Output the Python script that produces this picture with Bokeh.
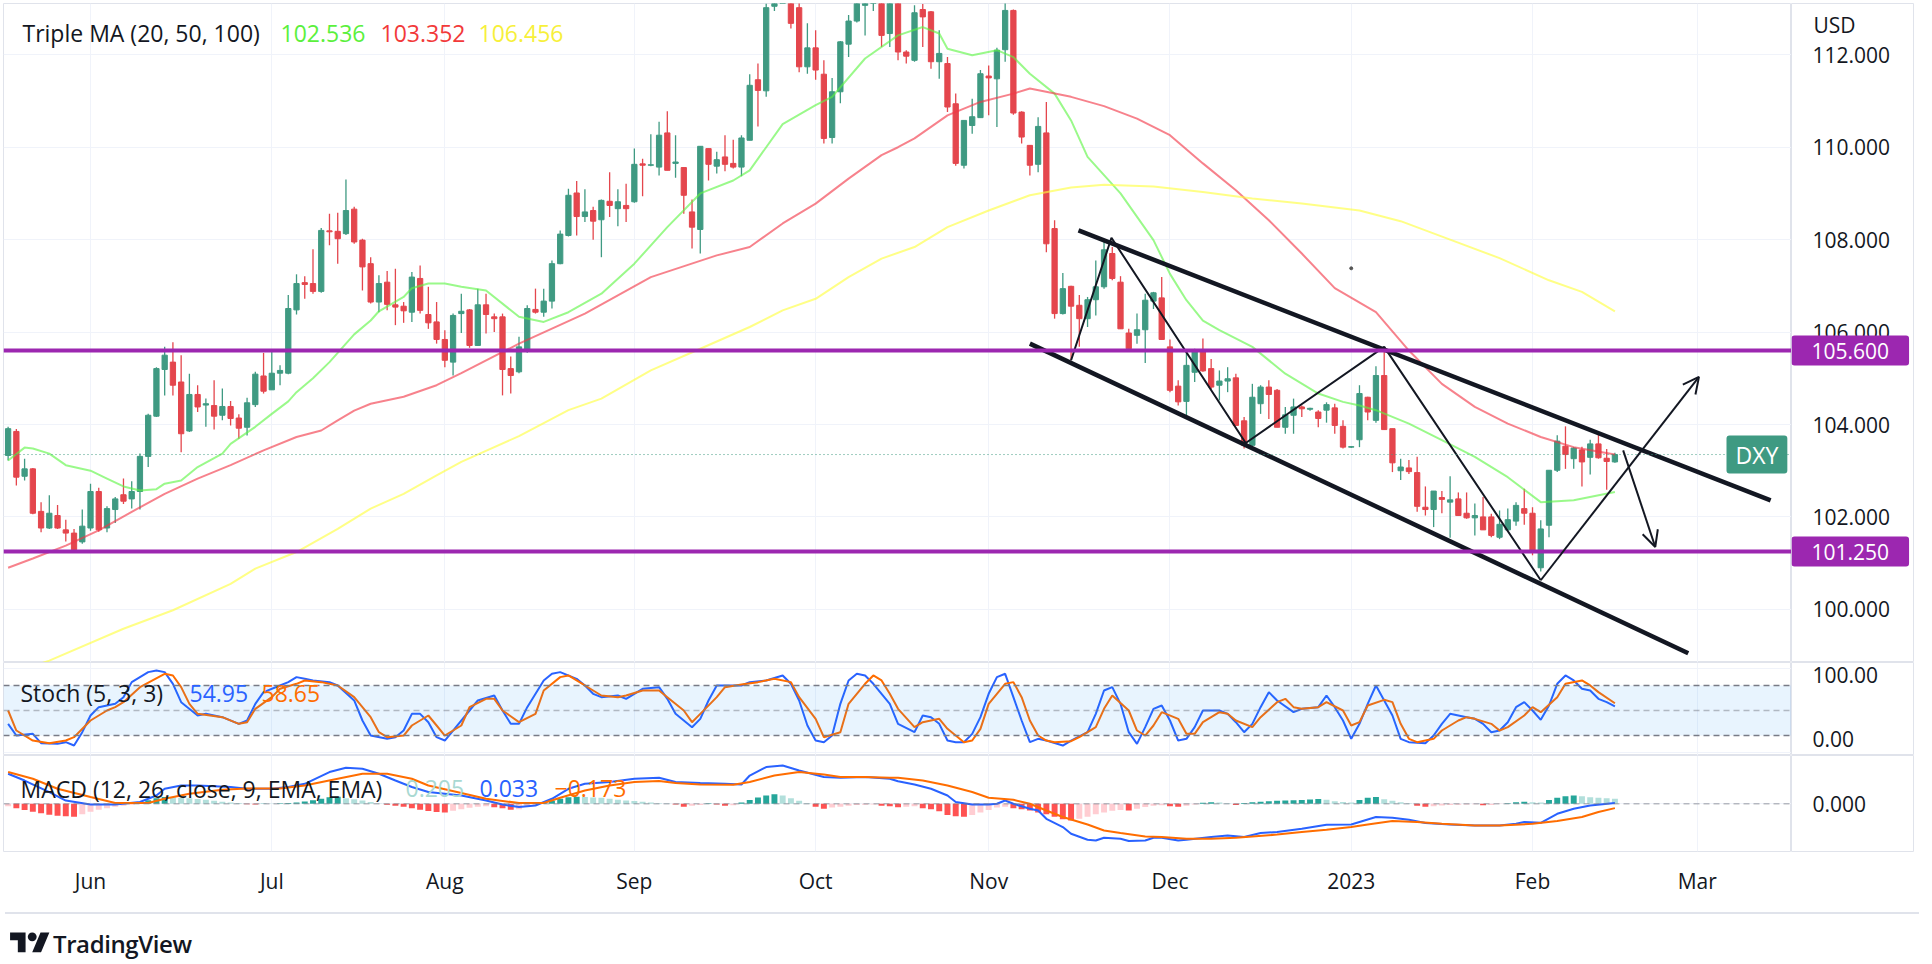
import pandas as pd
from bokeh.plotting import figure
from bokeh.models import (Range1d, FixedTicker, Grid, Label, Span,
                          BoxAnnotation, Arrow, OpenHead, Div, ColumnDataSource,
                          CustomJSTickFormatter)
from bokeh.layouts import column, row
from bokeh.core.properties import value
from bokeh.embed import file_html
from bokeh.resources import INLINE

# ---------------- data (DXY daily) ----------------
start_date = "2022-05-18"

open_ = [103.33, 103.85, 102.88, 103.04, 102.12, 101.76, 102.03, 101.72, 101.65, 101.46,
         101.76, 102.55, 101.76, 102.16, 102.48, 102.39, 102.55, 103.31, 104.18, 105.19,
         105.35, 104.92, 103.86, 104.65, 104.42, 104.41, 104.20, 104.39, 104.14, 103.94,
         104.43, 105.05, 104.75, 105.11, 105.11, 106.48, 107.07, 107.05, 106.88, 108.19,
         108.18, 108.13, 108.66, 107.99, 107.48, 106.65, 107.08, 106.59, 106.56, 106.43,
         107.16, 106.38, 106.22, 105.84, 105.35, 106.40, 106.48, 105.71, 106.59, 106.33,
         106.33, 105.21, 105.14, 105.60, 106.49, 106.43, 106.67, 107.48, 108.09, 109.01,
         108.50, 108.63, 108.43, 108.83, 108.67, 108.74, 108.82, 109.64, 109.61, 109.57,
         110.31, 109.65, 109.56, 108.60, 108.22, 109.97, 109.59, 109.79, 109.65, 109.57,
         110.15, 111.46, 111.22, 113.05, 114.05, 114.20, 113.02, 111.74, 112.15, 111.58,
         110.21, 111.20, 112.23, 112.73, 113.07, 113.20, 113.30, 112.46, 113.20, 112.06,
         111.88, 112.98, 112.93, 111.85, 111.81, 110.94, 109.61, 110.47, 110.64, 111.54,
         111.48, 112.11, 112.96, 110.76, 110.04, 109.63, 110.31, 108.24, 106.40, 106.99,
         106.58, 106.29, 106.70, 106.98, 107.70, 107.08, 105.98, 105.93, 106.05, 106.67,
         106.74, 105.68, 104.83, 104.50, 105.13, 105.62, 105.21, 104.85, 104.94, 105.01,
         104.08, 103.55, 104.45, 104.81, 104.74, 103.94, 104.20, 104.38, 104.33, 104.27,
         104.31, 104.36, 103.96, 103.51, 103.67, 104.59, 104.09, 105.06, 103.91, 103.00,
         103.06, 102.96, 102.21, 102.16, 102.42, 102.32, 102.39, 102.08, 101.98, 102.00,
         102.00, 101.56, 101.72, 101.91, 102.18, 102.08, 100.90, 101.82, 103.01, 103.53,
         103.26, 103.45, 103.29, 103.58, 103.27, 103.19]

high_ = [103.95, 103.90, 103.26, 103.06, 102.32, 102.47, 102.26, 101.94, 101.74, 102.16,
         102.72, 102.63, 102.23, 102.43, 102.83, 102.77, 103.37, 104.23, 105.24, 105.68,
         105.78, 105.50, 105.10, 104.85, 104.56, 104.96, 104.78, 104.51, 104.22, 104.58,
         105.14, 105.55, 105.62, 105.28, 106.80, 107.25, 107.21, 107.79, 108.25, 108.56,
         108.58, 109.30, 108.71, 108.02, 107.62, 107.23, 107.32, 107.37, 106.65, 107.30,
         107.44, 106.98, 106.65, 106.04, 106.40, 106.83, 106.50, 106.94, 106.83, 106.40,
         106.40, 105.47, 105.90, 106.58, 106.94, 106.94, 107.55, 108.20, 109.10, 109.27,
         109.09, 108.71, 108.87, 109.46, 109.09, 109.21, 109.97, 109.75, 110.28, 110.55,
         110.78, 110.26, 109.56, 108.87, 110.02, 109.97, 109.90, 110.26, 110.16, 110.26,
         111.58, 111.81, 113.11, 114.50, 114.60, 114.78, 113.30, 112.68, 112.53, 111.88,
         111.50, 112.30, 112.86, 113.30, 113.40, 113.55, 113.90, 113.50, 113.30, 112.10,
         113.07, 113.10, 112.95, 112.53, 111.95, 111.16, 110.58, 111.05, 111.67, 111.77,
         112.15, 113.12, 112.98, 110.78, 110.05, 110.65, 110.98, 108.42, 107.28, 107.00,
         106.80, 106.76, 107.55, 107.99, 107.84, 107.21, 106.07, 106.40, 106.83, 106.87,
         107.19, 105.84, 104.96, 105.60, 105.64, 105.86, 105.42, 105.17, 105.24, 105.10,
         104.16, 104.88, 104.85, 104.96, 104.77, 104.38, 104.56, 104.41, 104.36, 104.31,
         104.48, 104.45, 104.09, 103.53, 104.85, 104.60, 105.26, 105.64, 103.91, 103.26,
         103.23, 103.30, 102.66, 102.56, 102.56, 102.88, 102.53, 102.53, 102.29, 102.43,
         102.07, 102.14, 102.18, 102.32, 102.61, 102.21, 101.93, 103.01, 103.77, 103.96,
         103.51, 103.52, 103.67, 103.83, 103.47, 103.39]

low_ = [103.22, 102.68, 102.79, 102.06, 101.67, 101.74, 101.74, 101.47, 101.27, 101.42,
        101.70, 101.68, 101.67, 101.87, 102.28, 102.18, 102.16, 103.08, 104.16, 104.63,
        104.63, 103.40, 103.84, 104.27, 103.95, 103.89, 104.09, 103.98, 103.69, 103.76,
        104.38, 104.67, 104.75, 104.85, 105.09, 106.38, 106.72, 106.83, 106.85, 107.88,
        107.48, 108.10, 107.91, 106.90, 106.62, 106.43, 106.47, 106.15, 106.20, 106.22,
        106.40, 106.07, 105.75, 105.24, 105.06, 105.98, 105.66, 105.70, 105.97, 106.00,
        104.63, 104.67, 105.11, 105.55, 106.40, 106.33, 106.51, 107.47, 108.07, 108.09,
        108.38, 108.00, 107.62, 108.49, 108.29, 108.38, 108.80, 108.94, 109.59, 109.39,
        109.50, 109.34, 108.56, 107.81, 107.70, 109.28, 109.43, 109.48, 109.54, 109.37,
        110.15, 110.45, 111.09, 112.95, 113.90, 112.57, 111.62, 111.59, 111.46, 110.08,
        110.08, 110.95, 111.95, 112.70, 112.42, 112.95, 112.17, 112.17, 111.88, 111.81,
        111.85, 112.17, 111.70, 111.48, 110.76, 109.60, 109.54, 110.29, 110.64, 110.69,
        110.44, 111.85, 110.70, 110.08, 109.39, 109.46, 107.73, 106.29, 106.38, 105.39,
        105.68, 106.11, 106.36, 106.94, 107.12, 106.07, 105.60, 105.75, 105.33, 106.50,
        105.84, 104.70, 104.41, 104.12, 104.92, 105.14, 104.77, 104.52, 104.70, 103.98,
        103.48, 103.48, 104.23, 104.12, 103.94, 103.80, 103.80, 104.16, 104.30, 103.94,
        104.04, 103.80, 103.48, 103.49, 103.51, 104.09, 104.04, 103.89, 102.97, 102.80,
        102.93, 102.11, 102.03, 101.78, 102.08, 101.55, 102.03, 101.96, 101.60, 101.72,
        101.56, 101.52, 101.70, 101.81, 101.83, 101.17, 100.82, 101.56, 102.97, 103.04,
        103.04, 102.66, 102.92, 103.26, 102.59, 103.17]

close_ = [103.91, 102.86, 103.04, 102.08, 101.76, 102.08, 101.76, 101.65, 101.29, 101.80,
          102.55, 101.72, 102.18, 102.39, 102.34, 102.55, 103.31, 104.20, 105.21, 105.50,
          104.85, 103.80, 104.65, 104.38, 104.45, 104.18, 104.39, 104.13, 103.92, 104.47,
          105.09, 104.72, 105.11, 105.17, 106.51, 107.05, 107.03, 106.88, 108.20, 108.17,
          108.02, 108.63, 107.95, 107.41, 106.65, 107.05, 106.60, 106.54, 106.46, 107.19,
          106.47, 106.20, 105.84, 105.39, 106.36, 106.45, 105.71, 106.59, 106.38, 106.29,
          105.19, 105.06, 105.68, 106.51, 106.43, 106.67, 107.48, 108.12, 108.96, 108.50,
          108.60, 108.40, 108.85, 108.74, 108.82, 108.67, 109.63, 109.61, 109.62, 110.26,
          109.50, 109.68, 108.96, 108.27, 110.02, 109.63, 109.73, 109.63, 109.57, 110.20,
          111.34, 111.23, 113.02, 114.10, 114.15, 112.68, 111.74, 112.15, 111.67, 110.19,
          111.20, 112.28, 112.73, 113.18, 113.12, 113.25, 112.42, 113.30, 112.06, 111.97,
          112.91, 112.82, 111.85, 112.03, 110.87, 109.65, 110.58, 110.66, 111.59, 111.50,
          112.10, 112.96, 110.74, 110.22, 109.61, 110.45, 107.91, 106.40, 106.94, 106.56,
          106.29, 106.70, 106.98, 107.78, 107.16, 106.07, 105.64, 106.05, 106.69, 106.85,
          105.84, 104.74, 104.49, 105.28, 105.57, 105.16, 104.81, 104.94, 104.99, 103.98,
          103.55, 104.59, 104.81, 104.65, 103.94, 104.21, 104.38, 104.34, 104.35, 104.13,
          104.43, 103.98, 103.51, 103.52, 104.67, 104.27, 105.06, 103.89, 103.17, 103.08,
          102.98, 102.23, 102.16, 102.56, 102.38, 102.37, 102.03, 101.98, 102.03, 101.72,
          101.60, 101.84, 101.94, 102.25, 102.08, 101.24, 101.74, 103.01, 103.64, 103.35,
          103.49, 103.19, 103.58, 103.28, 103.20, 103.35]

# Triple MA (20, 50, 100) read at sampled bars
ma20_idx = [0, 2, 3, 5, 7, 10, 12, 14, 16, 18, 19, 21, 23, 26, 27, 30, 32, 34, 35, 37, 39, 40, 42, 44, 45,
            48, 49, 51, 53, 55, 58, 62, 65, 68, 72, 76, 80, 84, 88, 90, 92, 94, 98, 100, 104, 108, 111,
            113, 114, 117, 120, 122, 124, 127, 129, 131, 135, 139, 141, 143, 145, 147, 151, 155, 159,
            162, 164, 166, 170, 174, 178, 182, 186, 190, 195]
ma20_val = [103.22, 103.50, 103.48, 103.37, 103.12, 103.00, 102.83, 102.66, 102.57, 102.60, 102.72,
            102.79, 103.08, 103.37, 103.58, 103.95, 104.23, 104.50, 104.70, 105.00, 105.35, 105.55,
            105.95, 106.25, 106.45, 106.76, 106.95, 107.05, 107.05, 106.98, 106.90, 106.33, 106.22,
            106.43, 106.83, 107.48, 108.27, 109.00, 109.28, 109.50, 110.00, 110.50, 110.91, 111.09,
            111.92, 112.42, 112.60, 112.46, 112.13, 111.99, 112.10, 111.95, 111.59, 111.16, 110.58,
            109.79, 109.00, 107.99, 107.26, 106.69, 106.25, 106.04, 105.68, 105.10, 104.67, 104.49,
            104.41, 104.31, 104.02, 103.66, 103.30, 102.86, 102.32, 102.36, 102.54]

ma50_idx = [0, 3, 7, 11, 15, 19, 23, 27, 31, 35, 38, 40, 42, 44, 48, 52, 55, 62, 70, 78, 86, 90, 94,
            98, 102, 106, 108, 110, 114, 118, 122, 124, 129, 133, 137, 141, 145, 149, 153, 157, 161,
            166, 170, 174, 178, 182, 186, 190, 195]
ma50_val = [100.90, 101.10, 101.38, 101.71, 102.11, 102.50, 102.83, 103.12, 103.44, 103.73, 103.87,
            104.09, 104.30, 104.45, 104.60, 104.85, 105.11, 105.75, 106.40, 107.19, 107.66, 107.84,
            108.35, 108.78, 109.32, 109.83, 110.00, 110.19, 110.69, 110.98, 111.16, 111.27, 111.09,
            110.89, 110.62, 110.26, 109.65, 109.07, 108.42, 107.70, 106.95, 106.43, 105.60, 104.88,
            104.38, 104.02, 103.73, 103.51, 103.35]

ma100_idx = [4, 5, 14, 20, 27, 30, 35, 40, 44, 48, 52, 55, 62, 68, 72, 78, 84, 90, 94, 98, 102, 106,
             110, 114, 119, 124, 129, 133, 139, 145, 151, 157, 164, 169, 175, 181, 187, 191, 195]
ma100_val = [98.83, 98.89, 99.58, 99.98, 100.55, 100.88, 101.24, 101.74, 102.18, 102.50, 102.90,
             103.19, 103.75, 104.31, 104.56, 105.17, 105.64, 106.11, 106.47, 106.72, 107.19, 107.59,
             107.84, 108.27, 108.63, 108.96, 109.13, 109.19, 109.15, 109.03, 108.89, 108.78, 108.63,
             108.40, 108.00, 107.60, 107.12, 106.87, 106.45]

# Stochastic (5, 3, 3)
stoch_k_idx = [0, 1, 3, 4, 6, 7, 8, 9, 10, 11, 13, 14, 15, 17, 18, 19, 20, 21, 23, 24, 25, 26, 28, 29,
               30, 31, 33, 34, 35, 36, 37, 39, 40, 42, 43, 44, 46, 47, 48, 49, 50, 51, 52, 53, 54, 56,
               57, 59, 60, 61, 62, 63, 65, 66, 67, 69, 70, 71, 72, 74, 75, 76, 77, 79, 80, 81, 83, 84,
               85, 86, 87, 89, 90, 92, 94, 95, 96, 97, 98, 99, 100, 101, 102, 103, 104, 105, 107, 108,
               110, 111, 112, 113, 114, 115, 116, 117, 118, 119, 120, 121, 122, 123, 124, 125, 126, 128,
               129, 131, 132, 133, 134, 135, 136, 137, 138, 139, 140, 141, 142, 143, 144, 145, 147, 148,
               149, 150, 151, 152, 153, 154, 156, 157, 159, 160, 161, 162, 163, 164, 165, 166, 167, 168,
               169, 170, 172, 173, 174, 175, 177, 178, 179, 180, 181, 182, 183, 184, 185, 186, 187, 188,
               189, 190, 191, 192, 193, 194, 195]
stoch_k_val = [34, 20, 22, 10.8, 10, 12, 8, 24, 44, 54, 58, 66, 84, 96, 98, 96, 82, 60, 44, 46, 44, 42,
               34, 38, 58, 72, 80, 84, 90, 88, 86, 84, 80, 62, 38, 20, 16, 18, 26, 46, 46, 36, 18, 14,
               26, 50, 62, 68, 50, 34, 34, 54, 86, 94, 96, 88, 80, 70, 66, 68, 64, 70, 76, 78, 64, 46,
               30, 40, 62, 80, 80, 80, 84, 86, 92, 82, 62, 32, 14, 12, 20, 58, 86, 94, 92, 82, 58, 34,
               24, 44, 42, 34, 14, 12, 12, 22, 42, 70, 90, 94, 66, 38, 12, 16, 14, 8, 14, 24, 46, 74,
               78, 58, 24, 10, 30, 52, 56, 38, 14, 16, 30, 50, 50, 46, 36, 24, 34, 54, 72, 62, 48, 52,
               54, 68, 54, 38, 16, 34, 58, 80, 62, 44, 16, 12, 10.8, 20, 34, 46, 42, 40, 34, 24, 26,
               36, 54, 60, 50, 38.8, 56, 82, 92, 86, 76, 74, 64, 60, 54.95]
stoch_d_idx = [0, 1, 3, 5, 7, 8, 10, 12, 13, 14, 16, 19, 20, 21, 22, 23, 26, 28, 29, 30, 32, 33, 35,
               36, 38, 40, 42, 44, 45, 46, 48, 49, 51, 52, 53, 55, 56, 58, 59, 60, 62, 64, 65, 67, 68,
               69, 71, 72, 74, 75, 77, 79, 80, 82, 83, 84, 86, 87, 89, 91, 93, 95, 96, 98, 99, 101, 102,
               104, 105, 106, 107, 108, 110, 111, 113, 114, 116, 117, 118, 119, 121, 122, 123, 124, 125,
               126, 127, 129, 130, 132, 133, 134, 136, 137, 138, 139, 140, 142, 143, 144, 145, 147, 148,
               149, 151, 152, 154, 155, 156, 157, 159, 160, 162, 163, 164, 165, 167, 168, 169, 170, 171,
               173, 174, 176, 177, 178, 180, 181, 182, 184, 185, 186, 188, 189, 191, 192, 193, 195]
stoch_d_val = [50, 26, 14, 10.8, 14, 18, 38, 50, 54, 60, 78, 94, 92, 78, 58, 46, 42, 34, 36, 52, 66,
               76, 82, 86, 84, 80, 66, 42, 24, 18, 20, 32, 44, 32, 20, 32, 54, 64, 64, 50, 36, 46, 74,
               90, 92, 86, 74, 68, 66, 68, 74, 74, 66, 50, 36, 46, 66, 78, 81.2, 84, 88, 84, 66, 40,
               18, 24, 58, 82, 92, 86, 70, 52, 30, 36, 40, 28, 12, 14, 28, 58, 82, 84, 66, 38, 20, 14,
               12, 13.2, 18, 30, 52, 68, 50, 26, 20, 32, 48, 40, 22, 22, 36, 48, 46, 38, 30, 42, 60,
               64, 54, 52, 54, 60, 50, 32, 36, 56, 62.8, 60, 34, 16, 12, 16, 26, 38, 42, 40, 34, 26,
               30, 44, 54, 48, 66, 82, 86, 80, 72, 58.65]

# MACD (12, 26, close, 9)
macd_idx = [0, 2, 5, 7, 10, 13, 16, 18, 19, 21, 23, 27, 29, 32, 34, 36, 39, 41, 43, 45, 47, 49, 51, 55,
            58, 60, 62, 64, 66, 68, 70, 73, 76, 79, 81, 84, 87, 89, 90, 92, 94, 96, 99, 101, 104, 107,
            108, 110, 112, 114, 115, 117, 119, 120, 121, 122, 124, 125, 126, 128, 129, 131, 132, 133,
            135, 136, 138, 139, 140, 142, 143, 146, 148, 150, 152, 154, 157, 160, 163, 164, 166, 168,
            170, 172, 175, 178, 181, 183, 184, 186, 188, 190, 192, 195]
macd_val = [1.20, 0.93, 0.47, 0.13, -0.03, -0.03, 0.07, 0.33, 0.60, 0.73, 0.73, 0.67, 0.60, 0.60, 0.67,
            0.80, 1.27, 1.44, 1.40, 1.20, 0.93, 0.67, 0.47, 0.33, 0.13, -0.03, -0.13, -0.07, 0.20, 0.60,
            0.80, 0.87, 1.00, 1.04, 0.87, 0.83, 0.80, 0.77, 1.13, 1.47, 1.53, 1.33, 1.07, 1.04, 1.07,
            1.00, 0.90, 0.77, 0.60, 0.33, 0.07, -0.03, -0.03, 0.00, 0.13, 0.00, -0.20, -0.27, -0.60,
            -0.93, -1.20, -1.44, -1.47, -1.36, -1.40, -1.49, -1.47, -1.36, -1.36, -1.47, -1.44, -1.33,
            -1.27, -1.33, -1.17, -1.13, -1.00, -0.84, -0.83, -0.73, -0.53, -0.56, -0.64, -0.77, -0.83,
            -0.87, -0.87, -0.80, -0.73, -0.76, -0.40, -0.20, -0.07, 0.033]
signal_idx = [0, 3, 6, 10, 13, 17, 19, 22, 26, 29, 33, 36, 40, 43, 46, 49, 51, 55, 58, 62, 65, 67, 70,
              73, 76, 79, 81, 84, 88, 90, 93, 96, 99, 101, 104, 107, 108, 111, 114, 117, 119, 122, 124,
              126, 128, 131, 133, 135, 138, 140, 143, 146, 149, 151, 154, 157, 160, 163, 165, 168, 171,
              174, 178, 181, 185, 188, 191, 193, 195]
signal_val = [1.27, 1.00, 0.60, 0.27, 0.03, 0.03, 0.20, 0.40, 0.56, 0.61, 0.61, 0.73, 1.00, 1.20, 1.20,
              1.00, 0.73, 0.43, 0.20, 0.03, 0.03, 0.24, 0.53, 0.73, 0.87, 0.91, 0.83, 0.77, 0.76, 0.87,
              1.13, 1.27, 1.17, 1.07, 1.07, 1.04, 1.04, 0.93, 0.73, 0.47, 0.24, 0.16, 0.00, -0.27, -0.53,
              -0.83, -1.07, -1.17, -1.31, -1.33, -1.40, -1.40, -1.36, -1.31, -1.23, -1.13, -1.04, -0.93,
              -0.83, -0.69, -0.73, -0.80, -0.87, -0.87, -0.80, -0.69, -0.53, -0.33, -0.173]
hist_val = [-0.10, -0.18, -0.25, -0.32, -0.38, -0.44, -0.48, -0.50, -0.52, -0.42,
            -0.32, -0.24, -0.18, -0.12, -0.08, -0.04, 0.05, 0.14, 0.22, 0.27,
            0.26, 0.24, 0.22, 0.19, 0.16, 0.12, 0.08, 0.05, 0.03, -0.02,
            -0.03, 0.01, 0.01, 0.02, 0.03, 0.05, 0.09, 0.14, 0.20, 0.26,
            0.28, 0.22, 0.18, 0.13, 0.07, 0.01, -0.04, -0.08, -0.12, -0.18,
            -0.24, -0.29, -0.33, -0.35, -0.28, -0.22, -0.16, -0.12, -0.10, -0.14,
            -0.18, -0.24, -0.22, -0.13, -0.05, 0.05, 0.12, 0.20, 0.26, 0.28,
            0.27, 0.25, 0.24, 0.20, 0.16, 0.13, 0.11, 0.08, 0.05, 0.02,
            0.01, -0.03, -0.12, -0.08, -0.05, 0.02, -0.03, -0.08, -0.06, 0.05,
            0.15, 0.25, 0.33, 0.38, 0.33, 0.22, 0.12, 0.02, -0.12, -0.20,
            -0.15, -0.12, -0.08, -0.05, -0.04, -0.03, -0.08, -0.10, -0.14, -0.12,
            -0.10, -0.18, -0.22, -0.30, -0.45, -0.50, -0.52, -0.45, -0.35, -0.25,
            -0.15, -0.12, -0.18, -0.22, -0.27, -0.35, -0.42, -0.52, -0.62, -0.67,
            -0.60, -0.52, -0.42, -0.35, -0.28, -0.25, -0.27, -0.20, -0.13, -0.08,
            -0.06, -0.10, -0.12, -0.08, -0.03, 0.04, 0.06, 0.05, 0.02, -0.05,
            0.03, 0.06, 0.08, 0.10, 0.12, 0.13, 0.14, 0.15, 0.17, 0.19,
            0.16, 0.10, 0.07, 0.05, 0.15, 0.24, 0.27, 0.18, 0.12, 0.06,
            0.02, -0.08, -0.12, -0.10, -0.07, -0.05, -0.04, -0.03, -0.02, -0.06,
            -0.05, -0.01, 0.02, 0.06, 0.08, 0.06, 0.05, 0.15, 0.24, 0.30,
            0.33, 0.30, 0.26, 0.24, 0.22, 0.205]

# horizontal levels and drawings (bar index, price)
levels = [105.60, 101.25]
last_price = 103.35
channel_upper_x = [129.9, 213.9]
channel_upper_y = [108.20, 102.36]
channel_lower_x = [124.0, 203.9]
channel_lower_y = [105.75, 99.05]
zigzag_x = [129.0, 133.9, 150.2, 167.0, 186.0]
zigzag_y = [105.39, 108.04, 103.60, 105.68, 100.63]
arrow_up = (186.0, 100.63, 205.2, 105.03)
arrow_down = (196.0, 103.44, 199.9, 101.35)
dot_x, dot_y = [163], [107.38]

price_ticks = [100, 102, 104, 106, 108, 110, 112]
stoch_ticks = [0, 100]
macd_ticks = [0]
legend_main = ["102.536", "103.352", "106.456"]
legend_stoch = ["54.95", "58.65"]
legend_macd = ["0.205", "0.033", "\u22120.173"]

# ---------------- styling ----------------
FONT = "Open Sans"
TXT = "#131722"
GRIDC = "#f0f3fa"
BORDER = "#e0e3eb"
UP = "#3f9a82"
DOWN = "#e4464d"
PURPLE = "#9c27b0"
BLUE = "#2962ff"
ORANGE = "#ff6d00"
INK = "#131722"
MA_COL = ["#5cf542", "#f23645", "#ffff3b"]
MA_TXT = ["#5bf03c", "#f23a3a", "#f7f03a"]

W = 1914
FR = 1791          # right edge of the plotting area (px)
AW = W - FR        # width of the price-scale column
n = len(close_)
cal = pd.bdate_range(start_date, periods=n + 26)
month_idx = [i for i in range(1, len(cal)) if cal[i].month != cal[i - 1].month]
month_names = ["2023" if cal[i].month == 1 else cal[i].strftime("%b") for i in month_idx]

x0 = -0.56
xr = Range1d(x0, x0 + (FR - 3) / 8.24)


def make_fig(height, yr, ticks, top=0, bottom=0, xaxis=False):
    p = figure(width=FR, height=height, x_range=xr, y_range=yr,
               toolbar_location=None, output_backend="svg",
               x_axis_location=("below" if xaxis else None), y_axis_location=None,
               min_border_left=3, min_border_right=0, min_border_top=top,
               min_border_bottom=bottom, background_fill_color="white",
               border_fill_color="white", outline_line_color=BORDER, outline_line_width=1)
    p.xgrid.visible = False
    p.ygrid.visible = False
    p.add_layout(Grid(dimension=0, ticker=FixedTicker(ticks=month_idx),
                      grid_line_color=GRIDC, grid_line_width=1))
    p.add_layout(Grid(dimension=1, ticker=FixedTicker(ticks=ticks),
                      grid_line_color=GRIDC, grid_line_width=1))
    return p


def make_scale(height, yr, ticks, fmt, top=0, bottom=0, offsets=None):
    a = figure(width=AW, height=height, x_range=Range1d(0, AW), y_range=yr,
               toolbar_location=None, output_backend="svg",
               x_axis_location=None, y_axis_location=None,
               min_border_left=0, min_border_right=0, min_border_top=top,
               min_border_bottom=bottom, background_fill_color="white",
               border_fill_color="white", outline_line_color=BORDER, outline_line_width=1)
    a.xgrid.visible = False
    a.ygrid.visible = False
    offs = offsets if offsets is not None else [0] * len(ticks)
    a.text(x=[21] * len(ticks), y=ticks, text=[fmt.format(t) for t in ticks],
           y_offset=offs, text_font=value(FONT), text_font_size="21px",
           text_color=TXT, text_baseline="middle", text_align="left")
    return a


def add_label(p, x, y, text, color=TXT, size="21px", bg=None, pad=None, units="screen",
              radius=None):
    lab = Label(x=(x - 3 if units == "screen" else x), y=y, x_units=units, y_units="data",
                text=text, text_color=color, text_font=FONT, text_font_size=size,
                text_baseline="middle", text_align="left")
    if bg is not None:
        lab.background_fill_color = bg
        lab.background_fill_alpha = 1.0
    if pad is not None:
        try:
            lab.padding = dict(left=pad[0], right=pad[1], top=pad[2], bottom=pad[3])
        except Exception:
            try:
                lab.padding = pad[2]
            except Exception:
                pass
    if radius is not None:
        try:
            lab.border_radius = radius
        except Exception:
            pass
    p.add_layout(lab)
    return lab


# ---------------- main pane ----------------
yr1 = Range1d(98.85, 113.11)
p1 = make_fig(662, yr1, price_ticks, top=3)
a1 = make_scale(662, yr1, price_ticks, "{:.3f}", top=3)

for lv in levels:
    p1.add_layout(Span(location=lv, dimension="width", line_color=PURPLE, line_width=4))
p1.add_layout(Span(location=last_price, dimension="width", line_color=UP, line_width=1,
                   line_dash="1 3"))

colors = [UP if c >= o else DOWN for o, c in zip(open_, close_)]
src = ColumnDataSource(dict(
    x=list(range(n)), h=high_, l=low_,
    top=[max(o, c) for o, c in zip(open_, close_)],
    bot=[min(o, c) for o, c in zip(open_, close_)],
    color=colors))
p1.segment(x0="x", y0="h", x1="x", y1="l", source=src, line_color="color", line_width=1.3)
p1.vbar(x="x", width=0.64, top="top", bottom="bot", source=src, fill_color="color",
        line_color="color", line_width=1)

for idx, val, col in [(ma20_idx, ma20_val, MA_COL[0]), (ma50_idx, ma50_val, MA_COL[1]),
                      (ma100_idx, ma100_val, MA_COL[2])]:
    p1.line(idx, val, line_color=col, line_width=2, line_alpha=0.62)

p1.line(channel_upper_x, channel_upper_y, line_color=INK, line_width=4.5)
p1.line(channel_lower_x, channel_lower_y, line_color=INK, line_width=4.5)
p1.line(zigzag_x, zigzag_y, line_color=INK, line_width=2)
for (xs, ys, xe, ye) in [arrow_up, arrow_down]:
    p1.add_layout(Arrow(end=OpenHead(size=16, line_width=2, line_color=INK),
                        x_start=xs, y_start=ys, x_end=xe, y_end=ye,
                        line_color=INK, line_width=2))
p1.scatter(dot_x, dot_y, size=3, color="#555555")

# legend
add_label(p1, 22, 112.47, "Triple MA (20, 50, 100)", size="23px")
for xx, t, c in zip([280, 380, 478], legend_main, MA_TXT):
    add_label(p1, xx, 112.47, t, color=c, size="23px")

# symbol badge
add_label(p1, 1726, last_price, "DXY", color="white", size="23px", bg=UP,
          pad=(9, 9, 3, 3), radius=3)

# price-scale badges
add_label(a1, 22, 112.65, "USD", size="21px", units="data")
for lv in levels:
    add_label(a1, 0, lv, f"{lv:.3f}", color="white", size="21px", bg=PURPLE,
              pad=(20, 20, 7, 7), units="data", radius=3)

# ---------------- stochastic pane ----------------
yr2 = Range1d(-3.96, 107.55)
p2 = make_fig(93, yr2, stoch_ticks)
a2 = make_scale(93, yr2, stoch_ticks, "{:.2f}", offsets=[-13, 6])
p2.add_layout(BoxAnnotation(bottom=20, top=80, fill_color="#2196f3", fill_alpha=0.1,
                            line_color=None))
for lv, a in [(80, 1.0), (50, 0.5), (20, 1.0)]:
    p2.add_layout(Span(location=lv, dimension="width", line_color="#787b86", line_alpha=a,
                       line_width=1.5, line_dash="6 4"))
p2.line(stoch_k_idx, stoch_k_val, line_color=BLUE, line_width=2)
p2.line(stoch_d_idx, stoch_d_val, line_color=ORANGE, line_width=2)
add_label(p2, 20, 70.4, "Stoch (5, 3, 3)", size="23px")
add_label(p2, 189, 70.4, legend_stoch[0], color=BLUE, size="23px")
add_label(p2, 261, 70.4, legend_stoch[1], color=ORANGE, size="23px")

# ---------------- MACD pane ----------------
yr3 = Range1d(-1.908, 1.932)
p3 = make_fig(152, yr3, macd_ticks, bottom=56, xaxis=True)
a3 = make_scale(152, yr3, macd_ticks, "{:.3f}", bottom=56)
xa = p3.xaxis[0]
xa.ticker = FixedTicker(ticks=month_idx)
xa.formatter = CustomJSTickFormatter(
    args=dict(mticks=month_idx, mnames=month_names),
    code="const k = mticks.indexOf(Math.round(tick)); return k >= 0 ? mnames[k] : '';")
xa.axis_line_color = None
xa.major_tick_line_color = None
xa.minor_tick_line_color = None
xa.major_tick_out = 0
xa.major_tick_in = 0
xa.major_label_standoff = 15
xa.major_label_text_font = FONT
xa.major_label_text_font_size = "21px"
xa.major_label_text_color = TXT

p3.add_layout(Span(location=0, dimension="width", line_color="#787b86", line_alpha=0.5,
                   line_width=1.5, line_dash="6 4"))
hcol = []
for i, h in enumerate(hist_val):
    prev = hist_val[i - 1] if i > 0 else h
    if h >= 0:
        hcol.append("#26a69a" if h > prev else "#b2dfdb")
    else:
        hcol.append("#ff5252" if h < prev else "#ffcdd2")
p3.vbar(x=list(range(len(hist_val))), width=0.72, top=hist_val, bottom=0,
        fill_color=hcol, line_color=None)
p3.line(macd_idx, macd_val, line_color=BLUE, line_width=2)
p3.line(signal_idx, signal_val, line_color=ORANGE, line_width=2)
add_label(p3, 20, 0.612, "MACD (12, 26, close, 9, EMA, EMA)", size="23px")
for xx, t, c in zip([405, 479, 554], legend_macd, ["#a9d9d2", BLUE, ORANGE]):
    add_label(p3, xx, 0.612, t, color=c, size="23px")

# ---------------- footer (logo) ----------------
logo = ('<svg width="40" height="31" viewBox="0 0 36 28" style="display:block">'
        '<path fill="#131722" d="M14 22H7V11H0V4h14v18zM28 22h-8l7.5-18h8L28 22z"/>'
        '<circle fill="#131722" cx="20" cy="8" r="4"/></svg>')
footer_html = (
    f'<div style="width:{W}px;height:39px;box-sizing:border-box;border-top:2px solid {BORDER};'
    'position:relative;">'
    '<div style="position:absolute;left:5px;top:14px;display:flex;align-items:center;">'
    f'{logo}<span style="font-family:\'Open Sans\';font-size:24px;font-weight:600;'
    f'color:{TXT};margin-left:3px;letter-spacing:-0.4px;line-height:24px;">TradingView</span>'
    '</div></div>')
footer = Div(text=footer_html, width=W, height=39)

layout = column(row(p1, a1, spacing=0), row(p2, a2, spacing=0), row(p3, a3, spacing=0),
                footer, spacing=0)
open("out.html", "w").write(file_html(layout, INLINE))
